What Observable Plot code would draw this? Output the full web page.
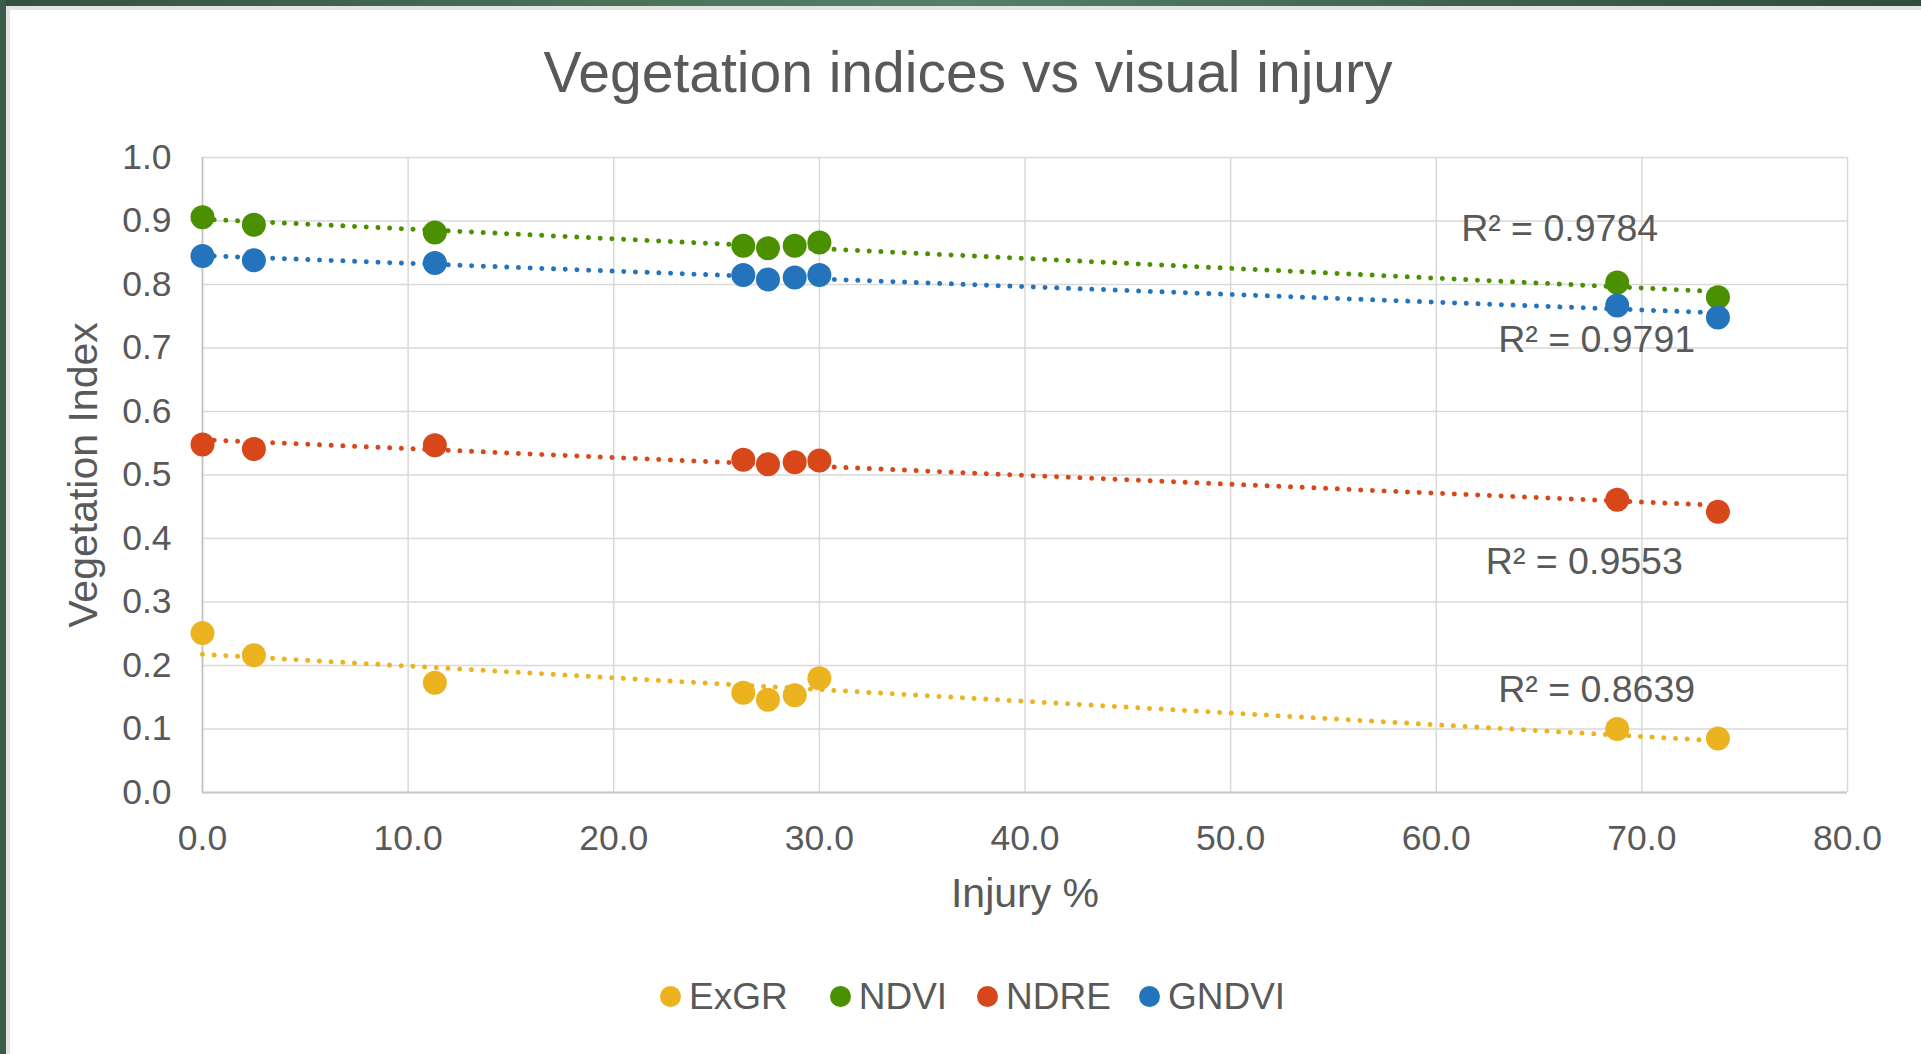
<!DOCTYPE html>
<html>
<head>
<meta charset="utf-8">
<script src="https://cdn.jsdelivr.net/npm/d3@7"></script>
<script src="https://cdn.jsdelivr.net/npm/@observablehq/plot@0.6"></script>
<style>
  html, body { margin: 0; padding: 0; background: #ffffff; }
  body { width: 1921px; height: 1054px; position: relative; overflow: hidden;
         font-family: "Liberation Sans", Arial, sans-serif; color: #595959; }
  #topband { position: absolute; left: 0; top: 0; width: 1921px; height: 6px;
             background: linear-gradient(90deg, #34513f 0%, #4b7559 35%, #53806a 50%, #3f6350 75%, #2f4c3d 100%); }
  #leftband { position: absolute; left: 0; top: 0; width: 6px; height: 1054px; background: #3b5c4b; }
  #topline { position: absolute; left: 6px; top: 6px; width: 1915px; height: 4px; background: #e4e4e4; }
  #leftline { position: absolute; left: 6px; top: 6px; width: 4px; height: 1048px; background: #e4e4e4; }
  #title { position: absolute; left: 0; top: 44px; width: 1936px; text-align: center;
           font-size: 57px; line-height: 57px; color: #595959; white-space: nowrap; }
  #plot { position: absolute; left: 0; top: 120px; }
  #legend { position: absolute; left: 660px; top: 978px; display: flex;
            font-size: 37px; line-height: 37px; color: #595959; white-space: nowrap; }
  .item { display: flex; align-items: center; }
  .sw { width: 21px; height: 21px; border-radius: 50%; margin-right: 8px; margin-top: -1px; }
</style>
</head>
<body>
<div id="topband"></div>
<div id="leftband"></div>
<div id="topline"></div>
<div id="leftline"></div>
<div id="title"></div>
<div id="plot"></div>
<div id="legend"></div>
<script>
// ---- data ----
const titleText = "Vegetation indices vs visual injury";
const xLabel = "Injury %";
const yLabel = "Vegetation Index";

const injury = [0.0, 2.5, 11.3, 26.3, 27.5, 28.8, 30.0, 68.8, 73.7];
const exgr  = [0.251, 0.216, 0.173, 0.157, 0.146, 0.153, 0.180, 0.100, 0.085];
const ndvi  = [0.906, 0.894, 0.882, 0.861, 0.857, 0.861, 0.866, 0.803, 0.780];
const ndre  = [0.548, 0.541, 0.547, 0.524, 0.517, 0.520, 0.523, 0.461, 0.442];
const gndvi = [0.845, 0.838, 0.834, 0.815, 0.808, 0.811, 0.815, 0.767, 0.748];

const seriesNames  = ["ExGR", "NDVI", "NDRE", "GNDVI"];
const seriesValues = [exgr, ndvi, ndre, gndvi];
const seriesColors = ["#EAB31F", "#4A9000", "#D8471A", "#2473BD"];

const xTicks = [0, 10, 20, 30, 40, 50, 60, 70, 80];
const yTicks = [0, 0.1, 0.2, 0.3, 0.4, 0.5, 0.6, 0.7, 0.8, 0.9, 1.0];

// R² annotations (anchored in data units)
const r2Series = ["NDVI", "GNDVI", "NDRE", "ExGR"];
const r2Text   = ["R² = 0.9784", "R² = 0.9791", "R² = 0.9553", "R² = 0.8639"];
const r2X      = [66.0, 67.8, 67.2, 67.8];
const r2Y      = [0.888, 0.713, 0.363, 0.161];

// ---- derived tables ----
const points = seriesNames.flatMap((s, k) =>
  injury.map((x, i) => ({series: s, injury: x, value: seriesValues[k][i]})));

const trend = seriesNames.flatMap((s, k) => {
  const ys = seriesValues[k];
  const mx = d3.mean(injury), my = d3.mean(ys);
  let sxy = 0, sxx = 0;
  injury.forEach((x, i) => { sxy += (x - mx) * (ys[i] - my); sxx += (x - mx) ** 2; });
  const b = sxy / sxx, a = my - b * mx;
  const [x0, x1] = d3.extent(injury);
  return [{series: s, x: x0, y: a + b * x0}, {series: s, x: x1, y: a + b * x1}];
});

const r2 = r2Text.map((t, i) => ({series: r2Series[i], text: t, x: r2X[i], y: r2Y[i]}));

// ---- title ----
document.getElementById("title").textContent = titleText;

// ---- plot ----
const fmt = d3.format(".1f");
const chart = Plot.plot({
  width: 1921,
  height: 820,
  marginTop: 37,
  marginBottom: 148,
  marginLeft: 202,
  marginRight: 74,
  style: {fontFamily: '"Liberation Sans", Arial, sans-serif', color: "#595959", background: "transparent", overflow: "visible"},
  x: {domain: [0, 80]},
  y: {domain: [0, 1]},
  color: {domain: seriesNames, range: seriesColors},
  marks: [
    Plot.ruleY(yTicks, {stroke: "#d9d9d9", strokeWidth: 1.5}),
    Plot.ruleX(xTicks, {stroke: "#d9d9d9", strokeWidth: 1.5}),
    Plot.ruleX([0], {stroke: "#bfbfbf", strokeWidth: 1.5}),
    Plot.ruleY([0], {stroke: "#c8c8c8", strokeWidth: 2}),
    Plot.axisX({ticks: xTicks, tickSize: 0, tickPadding: 32, tickFormat: fmt, fontSize: 35.5, fill: "#595959", label: null}),
    Plot.axisY({ticks: yTicks, tickSize: 0, tickPadding: 31, tickFormat: fmt, fontSize: 35.5, fill: "#595959", label: null}),
    Plot.text([xLabel], {frameAnchor: "bottom", dy: 101, fontSize: 41, fill: "#595959",
                         textAnchor: "middle", lineAnchor: "middle"}),
    Plot.text([yLabel], {frameAnchor: "left", dx: -119, rotate: -90, fontSize: 41, fill: "#595959",
                         textAnchor: "middle", lineAnchor: "middle"}),
    Plot.line(trend, {x: "x", y: "y", z: "series", stroke: "series", strokeWidth: 5,
                      strokeDasharray: "0.01 11.7", strokeLinecap: "round"}),
    Plot.dot(points, {x: "injury", y: "value", fill: "series", r: 12}),
    Plot.text(r2, {x: "x", y: "y", text: "text", fontSize: 37.5, fill: "#595959", lineAnchor: "middle"})
  ]
});
document.getElementById("plot").appendChild(chart);

// ---- legend ----
const legendGaps = [0, 42, 30, 28];
const legend = document.getElementById("legend");
seriesNames.forEach((s, k) => {
  const item = document.createElement("div");
  item.className = "item";
  item.style.marginLeft = legendGaps[k] + "px";
  const sw = document.createElement("span");
  sw.className = "sw";
  sw.style.background = seriesColors[k];
  const label = document.createElement("span");
  label.textContent = s;
  item.appendChild(sw);
  item.appendChild(label);
  legend.appendChild(item);
});
</script>
</body>
</html>
